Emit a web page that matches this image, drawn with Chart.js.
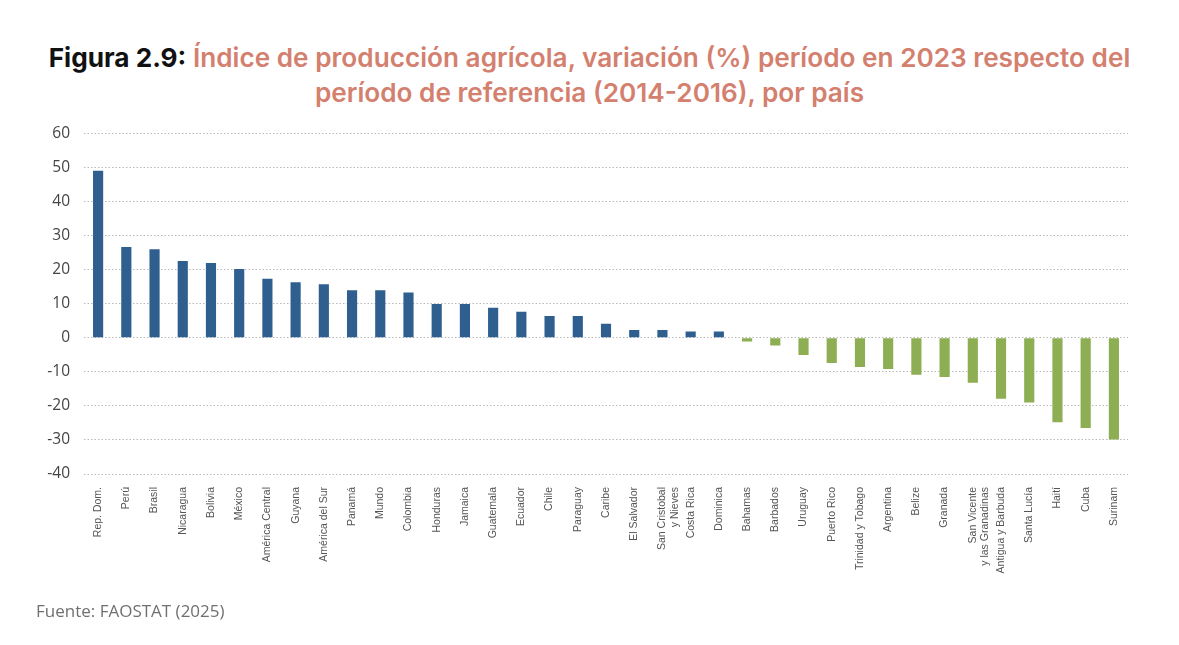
<!DOCTYPE html>
<html>
<head>
<meta charset="utf-8">
<script src="https://cdn.jsdelivr.net/npm/chart.js@4"></script>
<style>
  body { margin: 0; background: #fff; width: 1179px; height: 645px; position: relative; overflow: hidden; font-family: Inter, "Open Sans", sans-serif; }
  #title { position: absolute; top: 40px; left: 0; width: 1179px; text-align: center; font-size: 26.2px; line-height: 35px; font-weight: 600; color: #d4806f; }
  #title b { color: #111; font-weight: 700; }
  #wrap { position: absolute; left: 20px; top: 110px; width: 1120px; height: 492px; }
  #source { position: absolute; left: 36px; top: 599px; font-size: 17px; color: #707070; font-family: "Open Sans", sans-serif; }
</style>
</head>
<body>
<div id="title"><b>Figura 2.9:</b> Índice de producción agrícola, variación (%) período en 2023 respecto del<br>período de referencia (2014-2016), por país</div>
<div id="wrap"><canvas id="chart"></canvas></div>
<div id="source">Fuente: FAOSTAT (2025)</div>
<script>
const countries = [
  "Rep. Dom.", "Perú", "Brasil", "Nicaragua", "Bolivia", "México", "América Central", "Guyana",
  "América del Sur", "Panamá", "Mundo", "Colombia", "Honduras", "Jamaica", "Guatemala", "Ecuador",
  "Chile", "Paraguay", "Caribe", "El Salvador", ["San Cristobal", "y Nieves"], "Costa Rica", "Dominica",
  "Bahamas", "Barbados", "Uruguay", "Puerto Rico", "Trinidad y Tobago", "Argentina", "Belize", "Granada",
  ["San Vicente", "y las Granadinas"], "Antigua y Barbuda", "Santa Lucía", "Haití", "Cuba", "Surinam"
];
const variation = [
  49.0, 26.6, 26.0, 22.5, 21.9, 20.2, 17.3, 16.3,
  15.7, 13.9, 13.9, 13.3, 9.9, 9.9, 8.8, 7.6,
  6.4, 6.4, 4.1, 2.3, 2.3, 1.8, 1.8,
  -1.1, -2.3, -5.1, -7.4, -8.6, -9.2, -10.9, -11.5,
  -13.2, -17.9, -19.0, -24.8, -26.5, -29.9
];
const yTicks = [-40, -30, -20, -10, 0, 10, 20, 30, 40, 50, 60];

const blue = "#2e5f8f";
const green = "#8dae52";

new Chart(document.getElementById("chart").getContext("2d"), {
  type: "bar",
  data: {
    labels: countries,
    datasets: [{
      data: variation,
      backgroundColor: variation.map(v => v >= 0 ? blue : green),
      barPercentage: 0.36,
      categoryPercentage: 1.0
    }]
  },
  options: {
    responsive: true,
    maintainAspectRatio: false,
    animation: false,
    layout: { padding: { top: 0, right: 12, left: 0, bottom: 0 } },
    plugins: { legend: { display: false }, tooltip: { enabled: false } },
    scales: {
      y: {
        min: yTicks[0],
        max: yTicks[yTicks.length - 1],
        afterBuildTicks: s => { s.ticks = yTicks.map(v => ({ value: v })); },
        afterFit: s => { s.width = 64; },
        border: { display: false, dash: [1.5, 2] },
        grid: { color: "#b8b8b8", lineWidth: 1, drawTicks: false },
        ticks: { color: "#444", font: { size: 15.5, family: "Open Sans" }, padding: 14 }
      },
      x: {
        afterFit: s => { s.height = 128; },
        border: { display: false },
        grid: { display: false },
        ticks: { color: "#555", font: { size: 10.5, family: "Liberation Sans" }, maxRotation: 90, minRotation: 90, autoSkip: false, padding: 5 }
      }
    }
  }
});
</script>
</body>
</html>
